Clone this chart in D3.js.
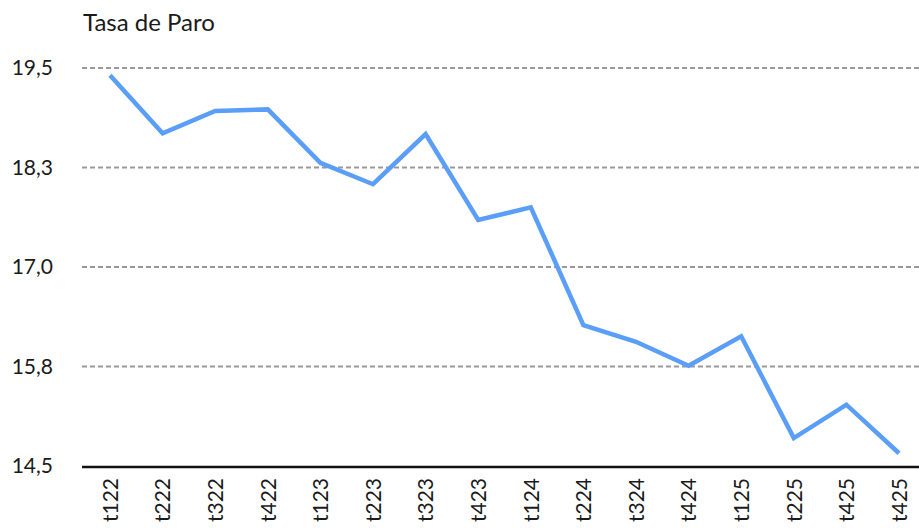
<!DOCTYPE html>
<html>
<head>
<meta charset="utf-8">
<script src="https://d3js.org/d3.v7.min.js"></script>
<style>
  body { margin: 0; background: #fff; }
  svg text { font-family: Lato, "Open Sans", sans-serif; fill: #1a1a1a; }
</style>
</head>
<body>
<div id="graph"></div>
<script>
// Tasa de paro por trimestre
var labels = ["t122","t222","t322","t422","t123","t223","t323","t423","t124","t224","t324","t424","t125","t225","t425","t425"];
var values = [19.41, 18.68, 18.96, 18.98, 18.31, 18.04, 18.67, 17.59, 17.75, 16.27, 16.06, 15.76, 16.13, 14.85, 15.27, 14.66];
var yTicks = [14.5, 15.75, 17.0, 18.25, 19.5];

var fullwidth = 919, fullheight = 532;

var svg = d3.select("#graph").append("svg")
  .attr("width", fullwidth)
  .attr("height", fullheight);

// index based scale because two labels repeat
var xScale = d3.scalePoint()
  .domain(d3.range(labels.length))
  .range([110, 899]);

var yScale = d3.scaleLinear()
  .domain([14.5, 19.5])
  .range([466, 68]);

var fmt = function(v) { return d3.format(".1f")(v).replace(".", ","); };

// title
svg.append("text")
  .attr("x", 83)
  .attr("y", 31)
  .style("font-size", "24px")
  .text("Tasa de Paro");

// gridlines (dashed) except bottom one
svg.append("g")
  .selectAll("line")
  .data(yTicks.slice(1))
  .enter().append("line")
    .attr("x1", 82)
    .attr("x2", fullwidth)
    .attr("y1", d => yScale(d))
    .attr("y2", d => yScale(d))
    .attr("stroke", "#999")
    .attr("stroke-width", 2)
    .attr("stroke-dasharray", "5,3");

// y labels
svg.append("g")
  .selectAll("text")
  .data(yTicks)
  .enter().append("text")
    .attr("x", 53)
    .attr("y", d => yScale(d))
    .attr("dy", "0.35em")
    .attr("text-anchor", "end")
    .style("font-size", "21px")
    .text(d => fmt(d));

// x axis
var xAxis = d3.axisBottom(xScale)
  .tickSize(0)
  .tickPadding(0)
  .tickFormat(i => labels[i]);

var gx = svg.append("g")
  .attr("transform", "translate(0," + 467 + ")")
  .call(xAxis);
gx.select(".domain").remove();
gx.selectAll("text")
  .attr("transform", "rotate(-90)")
  .attr("x", -11)
  .attr("y", 0)
  .attr("dy", "0.35em")
  .attr("text-anchor", "end")
  .style("font-size", "21px")
  .style("font-family", "Lato, 'Open Sans', sans-serif")
  .attr("fill", "#1a1a1a");

svg.append("line")
  .attr("x1", 82)
  .attr("x2", fullwidth)
  .attr("y1", 467)
  .attr("y2", 467)
  .attr("stroke", "#111")
  .attr("stroke-width", 2.5);

// data line
var line = d3.line()
  .x((d, i) => xScale(i))
  .y(d => yScale(d));

svg.append("path")
  .datum(values)
  .attr("fill", "none")
  .attr("stroke", "#5a9ef8")
  .attr("stroke-width", 4.5)
  .attr("stroke-linejoin", "miter")
  .attr("d", line);
</script>
</body>
</html>
